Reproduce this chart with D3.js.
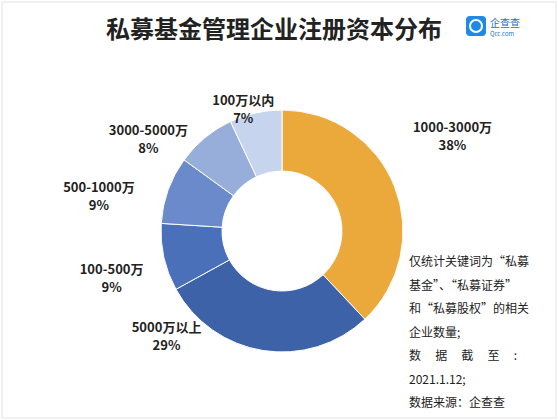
<!DOCTYPE html>
<html><head><meta charset="utf-8">
<script src="https://cdn.jsdelivr.net/npm/d3@7"></script>
<style>body{margin:0;background:#fff}</style></head>
<body><div id="chart"></div>
<script>
// 数据
const categories = ['1000-3000万', '5000万以上', '100-500万', '500-1000万', '3000-5000万', '100万以内'];
const values = [38, 29, 9, 9, 8, 7];
const colors = ['#eca93b', '#3d62a8', '#4a70ba', '#6a8acb', '#97aedb', '#c7d4ee'];
const notes = ['仅统计关键词为“私募', '基金”、“私募证券”', '和“私募股权”的相关', '企业数量;', '数 据 截 至 :', '2021.1.12;', '数据来源：企查查'];

const W = 558, H = 420, cx = 282, cy = 231, outerR = 121, innerR = 60;
const font = '"Noto Sans CJK SC", sans-serif';

const svg = d3.select('#chart').append('svg').attr('width', W).attr('height', H);
svg.append('rect').attr('x', 2).attr('y', 2).attr('width', W - 4).attr('height', H - 4)
  .attr('fill', '#fff').attr('stroke', '#e4e4e4');

// 标题
svg.append('text').attr('x', 274).attr('y', 38).attr('text-anchor', 'middle')
  .style('font-family', font).style('font-size', '24px').style('font-weight', 'bold')
  .attr('fill', '#222').text('私募基金管理企业注册资本分布');

// logo
svg.append('rect').attr('x', 466).attr('y', 16).attr('width', 20).attr('height', 20).attr('rx', 4).attr('fill', '#1e8ae6');
svg.append('circle').attr('cx', 476).attr('cy', 26).attr('r', 6).attr('fill', 'none').attr('stroke', '#fff').attr('stroke-width', 2);
svg.append('text').attr('x', 490).attr('y', 27).style('font-family', font).style('font-size', '10px').attr('fill', '#1e6fc0').text('企查查');
svg.append('text').attr('x', 490).attr('y', 36).style('font-family', font).style('font-size', '6px').attr('fill', '#1e6fc0').text('Qcc.com');

// 环形
const pie = d3.pie().sort(null).value(d => d)(values);
const arc = d3.arc().innerRadius(innerR).outerRadius(outerR);
const g = svg.append('g').attr('transform', `translate(${cx},${cy})`);
g.selectAll('path').data(pie).enter().append('path')
  .attr('d', arc).attr('fill', (d, i) => colors[i]).attr('stroke', '#fff').attr('stroke-width', 1);

// 标签
const labelArc = d3.arc().innerRadius(150).outerRadius(150);
const shift = [[31, -44], [-92, -47], [-24, 10], [-42, 12], [-38, 20], [-6, 20]]; // 微调
pie.forEach((d, i) => {
  const [x, y] = labelArc.centroid(d);
  const t = g.append('text').attr('text-anchor', 'middle')
    .style('font-family', font).style('font-size', '13px').style('font-weight', 'bold').attr('fill', '#222');
  t.append('tspan').attr('x', x + shift[i][0]).attr('y', y + shift[i][1]).text(categories[i]);
  t.append('tspan').attr('x', x + shift[i][0]).attr('y', y + shift[i][1] + 18).text(values[i] + '%');
});

// 注释
notes.forEach((s, i) => {
  svg.append('text').attr('x', 409).attr('y', 266 + i * 23.5)
    .style('font-family', font).style('font-size', '12px').attr('fill', '#222')
    .attr('textLength', i === 4 ? 108 : null).text(s);
});
</script></body></html>
